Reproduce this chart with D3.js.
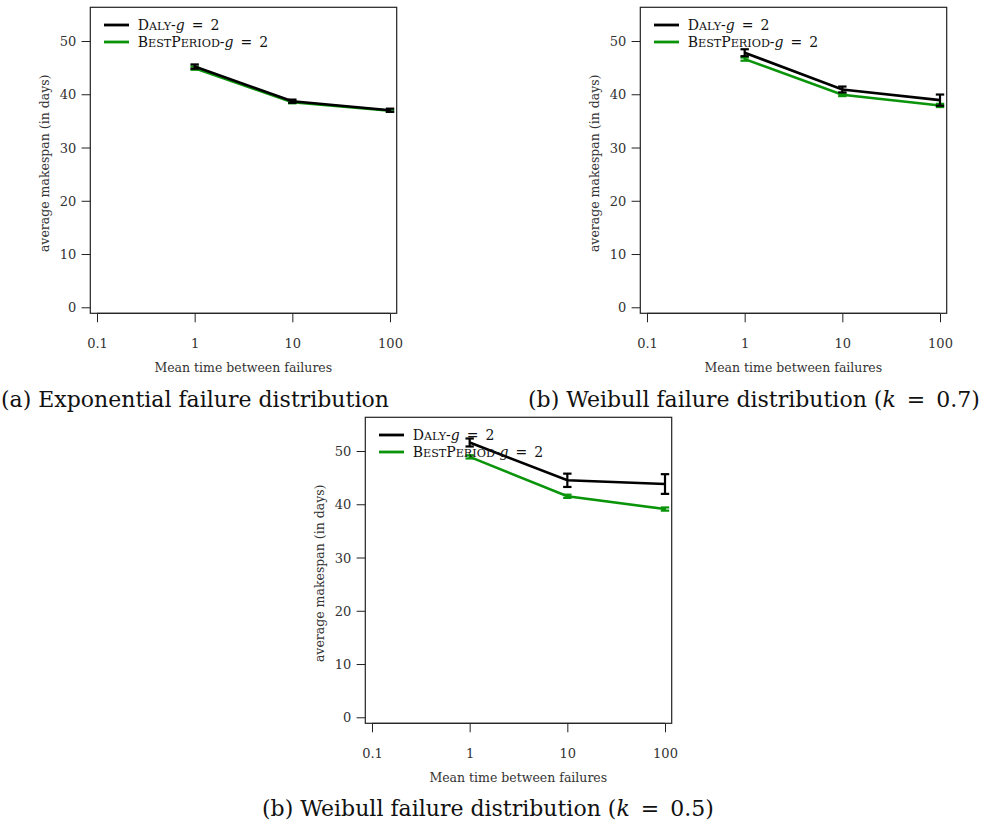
<!DOCTYPE html>
<html>
<head>
<meta charset="utf-8">
<script src="https://cdn.jsdelivr.net/npm/d3@7"></script>
<style>
  body { margin: 0; background: #fff; }
  svg text { font-family: "DejaVu Serif", "Liberation Serif", serif; }
</style>
</head>
<body>
<svg id="chart" width="1005" height="827"></svg>
<script>
// ---- data ----
const mtbf = [1, 10, 100];
const xTicks = [0.1, 1, 10, 100];
const xTickLabels = ["0.1", "1", "10", "100"];
const yTicks = [0, 10, 20, 30, 40, 50];

const seriesNames = ["Daly", "BestPeriod"];
const seriesColors = ["#000000", "#0a940a"];

// panel (a) exponential
const expDaly = [45.2, 38.7, 37.0];
const expDalyErr = [0.4, 0.3, 0.3];
const expBest = [44.9, 38.5, 36.9];
const expBestErr = [0.3, 0.2, 0.2];

// panel (b) weibull k=0.7
const w07Daly = [47.8, 40.9, 38.9];
const w07DalyErr = [0.65, 0.55, 1.05];
const w07Best = [46.6, 39.9, 37.9];
const w07BestErr = [0.3, 0.25, 0.3];

// panel (c) weibull k=0.5
const w05Daly = [51.6, 44.5, 43.8];
const w05DalyErr = [0.75, 1.25, 1.85];
const w05Best = [48.9, 41.5, 39.1];
const w05BestErr = [0.3, 0.3, 0.3];

const captions = [
  ["(a) Exponential failure distribution", null],
  ["(b) Weibull failure distribution (", "0.7"],
  ["(b) Weibull failure distribution (", "0.5"]
];

// ---- layout ----
const svg = d3.select("#chart");
const W = 306.4, H = 306;
const panels = [
  { left: 90.3, top: 7.3, daly: expDaly, dalyErr: expDalyErr, best: expBest, bestErr: expBestErr, cap: captions[0], capX: 1, capY: 407 },
  { left: 640.3, top: 7.3, daly: w07Daly, dalyErr: w07DalyErr, best: w07Best, bestErr: w07BestErr, cap: captions[1], capX: 528, capY: 407 },
  { left: 365.3, top: 417.3, daly: w05Daly, dalyErr: w05DalyErr, best: w05Best, bestErr: w05BestErr, cap: captions[2], capX: 262, capY: 816 }
];

const pad = 0.0686;
const x = d3.scaleLog().domain([Math.pow(10, -1 - pad), Math.pow(10, 2 + pad)]).range([0, W]);
const y = d3.scaleLinear().domain([-1.13, 56.33]).range([H, 0]);

function smallCaps(t, word, size) {
  const parts = word.match(/[A-Z][a-z]*/g);
  parts.forEach(pt => {
    t.append("tspan").style("font-size", size + "px").text(pt[0]);
    if (pt.length > 1) t.append("tspan").style("font-size", (size * 0.8) + "px").text(pt.slice(1).toUpperCase());
  });
}

const EQ = "\u2002=\u2002";

panels.forEach(p => {
  const g = svg.append("g").attr("transform", `translate(${p.left},${p.top})`);

  // y axis
  const ya = g.append("g").call(d3.axisLeft(y).tickValues(yTicks).tickSize(8.7).tickSizeOuter(0).tickFormat(d3.format("d")));
  ya.select(".domain").remove();
  ya.selectAll("line").attr("stroke", "#222").attr("stroke-width", 1);
  ya.selectAll("text").attr("x", -14).attr("fill", "#333").style("font-size", "13px").attr("dy", "0.36em");

  // x axis
  const xa = g.append("g").attr("transform", `translate(0,${H})`)
    .call(d3.axisBottom(x).tickValues(xTicks).tickSize(9).tickSizeOuter(0).tickFormat((d, i) => xTickLabels[i]));
  xa.select(".domain").attr("stroke", "#222").attr("d", `M${x(0.1)},0H${x(100)}`);
  xa.selectAll("line").attr("stroke", "#222").attr("stroke-width", 1);
  xa.selectAll("text").attr("y", 25).attr("fill", "#333").style("font-size", "13px").attr("dy", "0.71em");

  // box
  g.append("rect").attr("x", 0).attr("y", 0).attr("width", W).attr("height", H)
    .attr("fill", "none").attr("stroke", "#222").attr("stroke-width", 1.2);

  // axis titles
  g.append("text").attr("transform", `translate(-41,${H / 2 + 3}) rotate(-90)`)
    .attr("text-anchor", "middle").attr("fill", "#333").style("font-size", "12.5px")
    .text("average makespan (in days)");
  g.append("text").attr("x", 153).attr("y", H + 59)
    .attr("text-anchor", "middle").attr("fill", "#333").style("font-size", "12.5px")
    .text("Mean time between failures");

  const series = [
    { vals: p.best, errs: p.bestErr, color: seriesColors[1] },
    { vals: p.daly, errs: p.dalyErr, color: seriesColors[0] }
  ];
  const line = d3.line().x((d, i) => x(mtbf[i])).y(d => y(d));
  series.forEach(s => {
    g.append("path").datum(s.vals).attr("d", line)
      .attr("fill", "none").attr("stroke", s.color).attr("stroke-width", 2.6);
    const eb = g.append("g").selectAll("g").data(s.vals).join("g");
    eb.append("line")
      .attr("x1", (d, i) => x(mtbf[i])).attr("x2", (d, i) => x(mtbf[i]))
      .attr("y1", (d, i) => y(d - s.errs[i])).attr("y2", (d, i) => y(d + s.errs[i]))
      .attr("stroke", s.color).attr("stroke-width", 2.2);
    [-1, 1].forEach(sg => {
      eb.append("line")
        .attr("x1", (d, i) => x(mtbf[i]) - 4.2).attr("x2", (d, i) => x(mtbf[i]) + 4.2)
        .attr("y1", (d, i) => y(d + sg * s.errs[i])).attr("y2", (d, i) => y(d + sg * s.errs[i]))
        .attr("stroke", s.color).attr("stroke-width", 2.2);
    });
  });

  // legend
  const leg = g.append("g");
  seriesNames.forEach((name, i) => {
    const ly = 17.7 + i * 17;
    leg.append("line").attr("x1", 13.7).attr("x2", 38.7).attr("y1", ly).attr("y2", ly)
      .attr("stroke", seriesColors[i]).attr("stroke-width", 2.8);
    const t = leg.append("text").attr("x", 47.4).attr("y", ly + 5).attr("fill", "#111").style("font-size", "14px");
    smallCaps(t, name, 14);
    t.append("tspan").text("-");
    t.append("tspan").style("font-style", "italic").text("g");
    t.append("tspan").text(EQ + "2");
  });

  // caption
  const c = svg.append("text").attr("x", p.capX).attr("y", p.capY).attr("fill", "#111").style("font-size", "22px");
  c.append("tspan").text(p.cap[0]);
  if (p.cap[1]) {
    c.append("tspan").style("font-style", "italic").text("k");
    c.append("tspan").text(EQ + p.cap[1] + ")");
  }
});
</script>
</body>
</html>
